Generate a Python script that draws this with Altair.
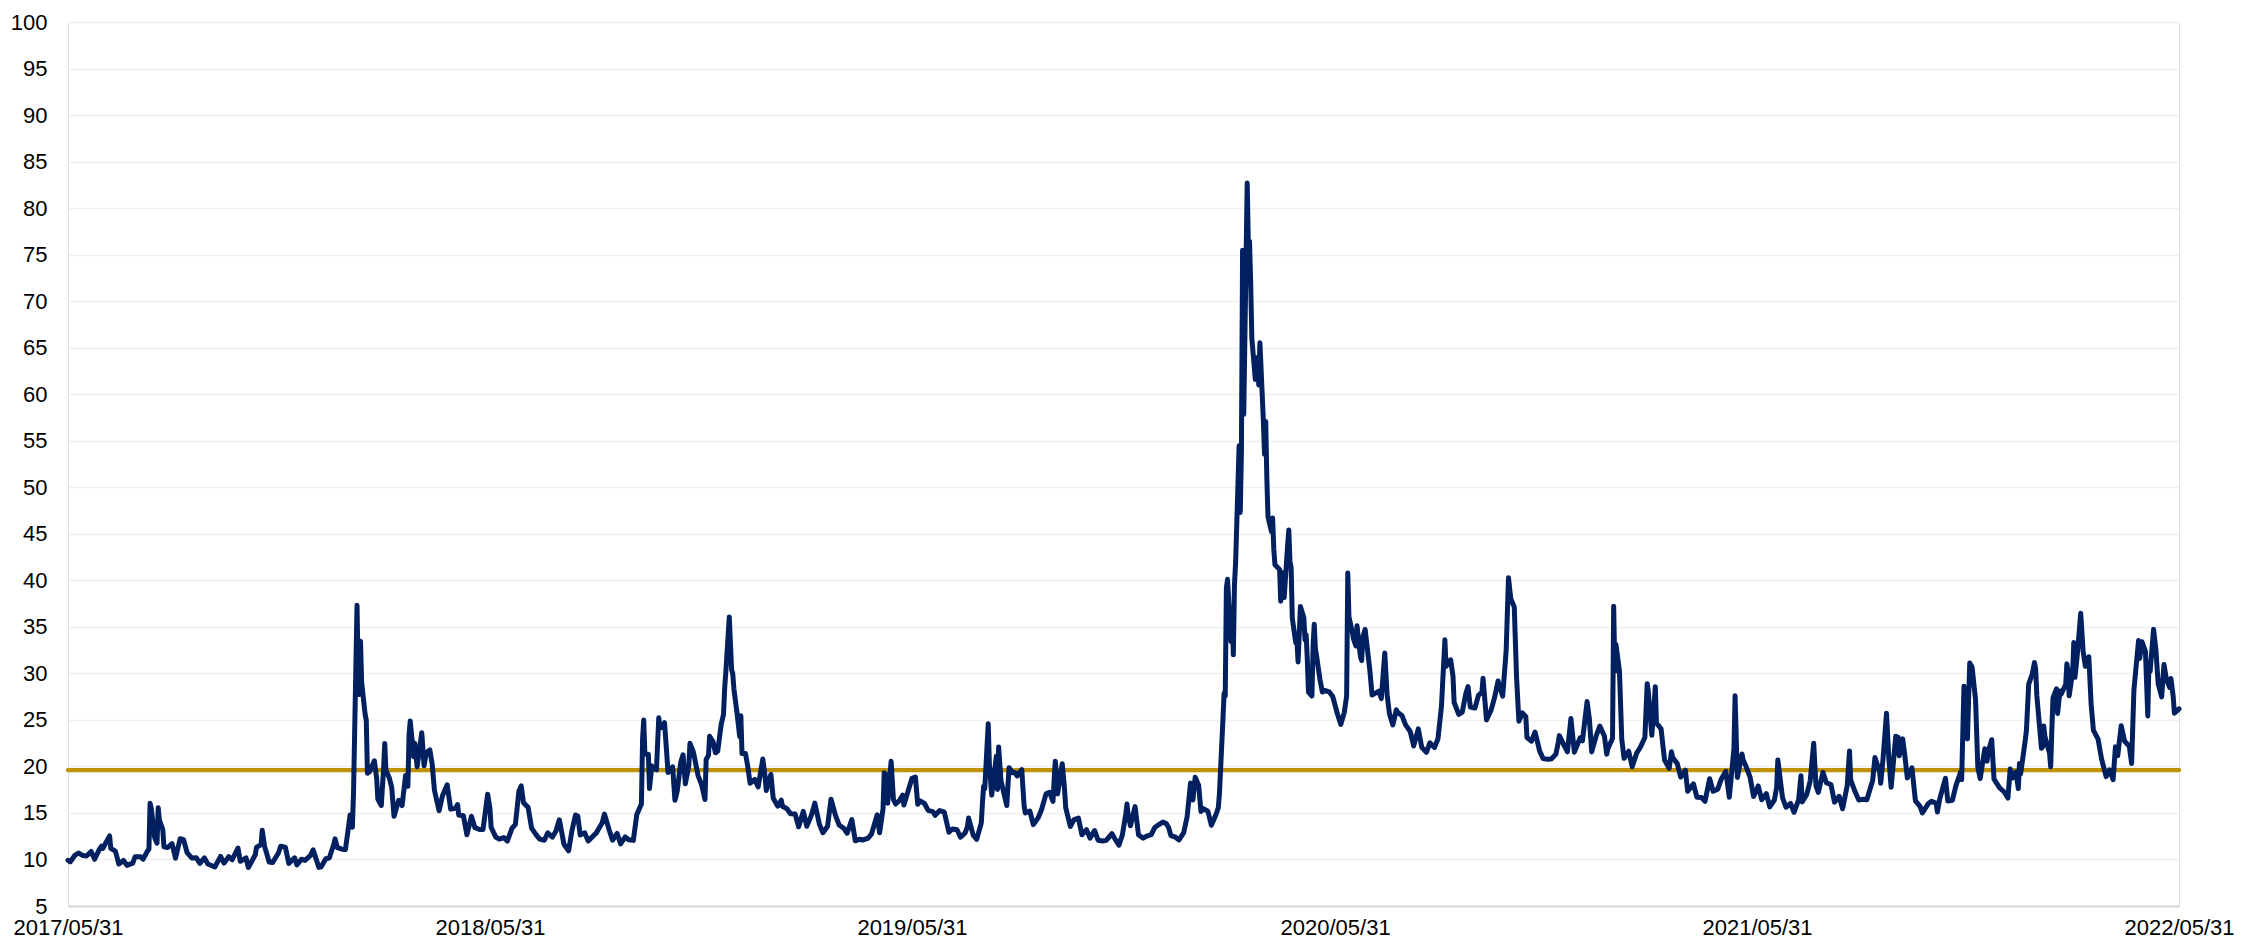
import altair as alt
import pandas as pd

vix_2017 = [("05-31", 9.9), ("06-02", 9.75), ("06-06", 10.45), ("06-09", 10.7), ("06-13", 10.42), ("06-16", 10.38),
            ("06-20", 10.86), ("06-23", 10.02), ("06-27", 11.06), ("06-29", 11.44), ("06-30", 11.18), ("07-06", 12.54),
            ("07-07", 11.19), ("07-11", 10.89), ("07-14", 9.51), ("07-18", 9.89), ("07-21", 9.36), ("07-26", 9.6),
            ("07-28", 10.29), ("08-02", 10.28), ("08-04", 10.03), ("08-08", 10.96), ("08-09", 11.11), ("08-10", 16.04),
            ("08-11", 15.51), ("08-14", 12.33), ("08-16", 11.74), ("08-17", 15.55), ("08-18", 14.26), ("08-21", 13.19),
            ("08-22", 11.35), ("08-25", 11.28), ("08-29", 11.7), ("09-01", 10.13), ("09-05", 12.23), ("09-08", 12.12),
            ("09-11", 10.73), ("09-15", 10.17), ("09-19", 10.18), ("09-22", 9.59), ("09-26", 10.17), ("09-29", 9.51),
            ("10-05", 9.19), ("10-10", 10.33), ("10-13", 9.61), ("10-17", 10.31), ("10-20", 9.97), ("10-25", 11.23),
            ("10-27", 9.8), ("11-01", 10.18), ("11-03", 9.14), ("11-09", 10.5), ("11-10", 11.29), ("11-14", 11.59),
            ("11-15", 13.13), ("11-17", 11.43), ("11-21", 9.73), ("11-24", 9.67), ("11-29", 10.7), ("12-01", 11.43),
            ("12-05", 11.33), ("12-08", 9.58), ("12-13", 10.18), ("12-15", 9.42), ("12-19", 10.03), ("12-22", 9.9),
            ("12-27", 10.47), ("12-29", 11.04)]
vix_2018 = [("01-03", 9.15), ("01-05", 9.22), ("01-09", 10.08), ("01-12", 10.16), ("01-16", 11.66), ("01-17", 12.22),
            ("01-19", 11.27), ("01-23", 11.1), ("01-26", 11.08), ("01-29", 13.84), ("01-30", 14.79), ("02-01", 13.47),
            ("02-02", 17.31), ("02-05", 37.32), ("02-06", 29.98), ("02-07", 27.73), ("02-08", 33.46), ("02-09", 29.06),
            ("02-12", 25.61), ("02-13", 24.97), ("02-14", 19.26), ("02-16", 19.46), ("02-20", 20.6), ("02-22", 18.72),
            ("02-23", 16.49), ("02-26", 15.8), ("02-28", 19.85), ("03-01", 22.47), ("03-02", 19.59), ("03-05", 18.73),
            ("03-07", 17.76), ("03-09", 14.64), ("03-13", 16.35), ("03-16", 15.8), ("03-19", 19.02), ("03-21", 17.86),
            ("03-22", 23.34), ("03-23", 24.87), ("03-26", 21.03), ("03-27", 22.5), ("03-29", 19.97), ("04-02", 23.62),
            ("04-04", 20.06), ("04-06", 21.49), ("04-09", 21.77), ("04-11", 20.24), ("04-13", 17.41), ("04-17", 15.25),
            ("04-20", 16.88), ("04-24", 18.02), ("04-27", 15.41), ("05-01", 15.49), ("05-03", 15.9), ("05-04", 14.77),
            ("05-08", 14.71), ("05-11", 12.65), ("05-15", 14.63), ("05-18", 13.42), ("05-22", 13.22), ("05-25", 13.22),
            ("05-29", 17.02), ("05-31", 15.43), ("06-01", 13.46), ("06-05", 12.4), ("06-08", 12.18), ("06-12", 12.35),
            ("06-15", 11.98), ("06-19", 13.35), ("06-22", 13.77), ("06-25", 17.33), ("06-27", 17.91), ("06-29", 16.09),
            ("07-03", 15.6), ("07-06", 13.37), ("07-10", 12.64), ("07-13", 12.18), ("07-17", 12.06), ("07-20", 12.86),
            ("07-24", 12.41), ("07-27", 13.03), ("07-30", 14.26), ("08-03", 11.64), ("08-07", 10.93), ("08-10", 13.16),
            ("08-13", 14.78), ("08-15", 14.64), ("08-17", 12.64), ("08-21", 12.86), ("08-24", 11.99), ("08-28", 12.5),
            ("08-31", 12.86), ("09-05", 13.91), ("09-07", 14.88), ("09-11", 13.22), ("09-14", 12.07), ("09-18", 12.79),
            ("09-21", 11.68), ("09-25", 12.42), ("09-28", 12.12), ("10-02", 12.05), ("10-05", 14.82), ("10-09", 15.95),
            ("10-10", 22.96), ("10-11", 24.98), ("10-12", 21.31), ("10-15", 21.3), ("10-16", 17.62), ("10-18", 20.06),
            ("10-19", 19.89), ("10-22", 19.64), ("10-24", 25.23), ("10-25", 24.22), ("10-26", 24.16), ("10-29", 24.7),
            ("10-31", 21.23), ("11-01", 19.34), ("11-02", 19.51), ("11-05", 19.96), ("11-07", 16.36), ("11-09", 17.36),
            ("11-12", 20.45), ("11-14", 21.25), ("11-16", 18.14), ("11-19", 20.1), ("11-20", 22.48), ("11-23", 21.52),
            ("11-27", 19.02), ("11-30", 18.07), ("12-03", 16.44), ("12-04", 20.74), ("12-06", 21.19), ("12-07", 23.23),
            ("12-10", 22.64), ("12-12", 21.46), ("12-14", 21.63), ("12-17", 24.52), ("12-19", 25.58), ("12-20", 28.38),
            ("12-21", 30.11), ("12-24", 36.07), ("12-26", 30.41), ("12-27", 29.96), ("12-28", 28.34), ("12-31", 25.42)]
vix_2019 = [("01-02", 23.22), ("01-03", 25.45), ("01-04", 21.38), ("01-07", 21.4), ("01-09", 19.98), ("01-11", 18.19),
            ("01-15", 18.6), ("01-18", 17.8), ("01-22", 20.8), ("01-24", 18.89), ("01-25", 17.42), ("01-29", 19.13),
            ("01-31", 16.57), ("02-04", 15.73), ("02-07", 16.37), ("02-08", 15.72), ("02-12", 15.43), ("02-15", 14.91),
            ("02-19", 14.88), ("02-22", 13.51), ("02-26", 15.17), ("03-01", 13.57), ("03-05", 14.74), ("03-08", 16.05),
            ("03-12", 13.77), ("03-15", 12.88), ("03-19", 13.56), ("03-22", 16.48), ("03-26", 14.68), ("03-29", 13.71),
            ("04-02", 13.36), ("04-05", 12.82), ("04-09", 14.28), ("04-12", 12.01), ("04-16", 12.18), ("04-18", 12.09),
            ("04-23", 12.28), ("04-26", 12.73), ("05-01", 14.8), ("05-03", 12.87), ("05-06", 15.44), ("05-07", 19.32),
            ("05-09", 19.1), ("05-10", 16.04), ("05-13", 20.55), ("05-15", 16.44), ("05-17", 15.96), ("05-20", 16.31),
            ("05-23", 16.92), ("05-24", 15.85), ("05-28", 17.5), ("05-31", 18.71), ("06-03", 18.86), ("06-05", 15.93),
            ("06-07", 16.3), ("06-11", 15.99), ("06-14", 15.28), ("06-18", 15.15), ("06-20", 14.75), ("06-24", 15.26),
            ("06-28", 15.08), ("07-02", 12.93), ("07-05", 13.28), ("07-09", 13.19), ("07-12", 12.39), ("07-16", 12.86),
            ("07-18", 13.53), ("07-19", 14.45), ("07-23", 12.61), ("07-26", 12.16), ("07-30", 13.94), ("07-31", 16.12),
            ("08-01", 17.87), ("08-02", 17.61), ("08-05", 24.59), ("08-06", 20.17), ("08-08", 16.91), ("08-09", 17.97),
            ("08-12", 21.09), ("08-13", 17.52), ("08-14", 22.1), ("08-16", 18.47), ("08-21", 15.8), ("08-23", 19.87),
            ("08-26", 19.32), ("08-28", 19.35), ("08-30", 18.98), ("09-03", 19.66), ("09-05", 15.82), ("09-06", 15.0),
            ("09-10", 15.2), ("09-13", 13.74), ("09-17", 14.44), ("09-20", 15.32), ("09-24", 17.05), ("09-27", 17.22),
            ("09-30", 16.24), ("10-01", 18.56), ("10-02", 20.56), ("10-03", 19.12), ("10-04", 17.04), ("10-08", 20.28),
            ("10-10", 17.57), ("10-11", 15.58), ("10-15", 13.54), ("10-18", 14.25), ("10-22", 14.46), ("10-25", 12.65),
            ("10-29", 13.2), ("11-01", 12.3), ("11-05", 13.1), ("11-08", 12.07), ("11-12", 11.99), ("11-15", 12.05),
            ("11-20", 12.78), ("11-22", 12.34), ("11-26", 11.54), ("11-29", 12.62), ("12-02", 14.91), ("12-03", 15.96),
            ("12-04", 14.8), ("12-06", 13.62), ("12-10", 15.68), ("12-13", 12.63), ("12-17", 12.29), ("12-20", 12.51),
            ("12-24", 12.67), ("12-27", 13.43), ("12-31", 13.78)]
vix_2020 = [("01-03", 14.02), ("01-06", 13.85), ("01-08", 13.45), ("01-10", 12.56), ("01-14", 12.39), ("01-17", 12.1),
            ("01-21", 12.85), ("01-24", 14.56), ("01-27", 18.23), ("01-29", 16.39), ("01-31", 18.84), ("02-03", 17.97),
            ("02-05", 15.15), ("02-07", 15.47), ("02-11", 15.18), ("02-14", 13.68), ("02-18", 14.83), ("02-20", 15.56),
            ("02-21", 17.08), ("02-24", 25.03), ("02-25", 27.85), ("02-26", 27.56), ("02-27", 39.16), ("02-28", 40.11),
            ("03-02", 33.42), ("03-03", 36.82), ("03-04", 31.99), ("03-05", 39.62), ("03-06", 41.94), ("03-09", 54.46),
            ("03-10", 47.3), ("03-11", 53.9), ("03-12", 75.47), ("03-13", 57.83), ("03-16", 82.69), ("03-17", 75.91),
            ("03-18", 76.45), ("03-19", 72.0), ("03-20", 66.04), ("03-23", 61.59), ("03-24", 61.67), ("03-25", 63.95),
            ("03-26", 61.0), ("03-27", 65.54), ("03-30", 57.08), ("03-31", 53.54), ("04-01", 57.06), ("04-02", 50.91),
            ("04-03", 46.8), ("04-06", 45.24), ("04-07", 46.7), ("04-08", 43.35), ("04-09", 41.67), ("04-13", 41.17),
            ("04-14", 37.76), ("04-15", 40.84), ("04-16", 40.11), ("04-17", 38.15), ("04-20", 43.83), ("04-21", 45.41),
            ("04-22", 41.98), ("04-23", 41.38), ("04-24", 35.93), ("04-27", 33.29), ("04-28", 33.57), ("04-29", 31.23),
            ("04-30", 34.15), ("05-01", 37.19), ("05-04", 35.97), ("05-05", 33.61), ("05-06", 34.12), ("05-07", 31.44),
            ("05-08", 27.98), ("05-11", 27.57), ("05-12", 33.04), ("05-13", 35.28), ("05-14", 32.61), ("05-15", 31.89),
            ("05-18", 29.3), ("05-20", 27.99), ("05-22", 28.16), ("05-26", 28.01), ("05-29", 27.51), ("06-02", 25.66),
            ("06-05", 24.52), ("06-08", 25.81), ("06-10", 27.57), ("06-11", 40.79), ("06-12", 36.09), ("06-15", 34.4),
            ("06-16", 33.67), ("06-18", 32.94), ("06-19", 35.12), ("06-22", 31.77), ("06-23", 31.37), ("06-24", 33.84),
            ("06-26", 34.73), ("06-30", 30.43), ("07-02", 27.68), ("07-06", 27.94), ("07-08", 28.08), ("07-10", 27.29),
            ("07-13", 32.19), ("07-15", 27.76), ("07-17", 25.68), ("07-20", 24.46), ("07-23", 26.08), ("07-24", 25.84),
            ("07-28", 25.44), ("07-31", 24.46), ("08-04", 23.76), ("08-07", 22.21), ("08-11", 24.03), ("08-14", 22.05),
            ("08-18", 21.51), ("08-21", 22.54), ("08-25", 22.03), ("08-28", 22.96), ("08-31", 26.41), ("09-03", 33.6),
            ("09-04", 30.75), ("09-08", 31.46), ("09-10", 29.71), ("09-11", 26.87), ("09-15", 25.59), ("09-18", 25.83),
            ("09-21", 27.78), ("09-23", 28.58), ("09-25", 26.38), ("09-29", 26.27), ("10-02", 27.63), ("10-05", 27.96),
            ("10-06", 29.48), ("10-09", 25.0), ("10-13", 26.07), ("10-16", 27.41), ("10-19", 29.18), ("10-23", 27.55),
            ("10-26", 32.46), ("10-28", 40.28), ("10-30", 38.02), ("11-02", 37.13), ("11-04", 29.57), ("11-06", 24.86),
            ("11-09", 25.75), ("11-12", 25.35), ("11-13", 23.1), ("11-17", 22.71), ("11-20", 23.7), ("11-24", 21.64),
            ("11-27", 20.84), ("12-01", 20.77), ("12-04", 20.79), ("12-08", 21.3), ("12-10", 22.52), ("12-11", 23.31),
            ("12-15", 22.29), ("12-18", 21.57), ("12-21", 25.16), ("12-24", 21.53), ("12-29", 23.08), ("12-31", 22.75)]
vix_2021 = [("01-04", 26.97), ("01-06", 25.07), ("01-08", 21.56), ("01-12", 23.33), ("01-15", 24.34), ("01-19", 23.24),
            ("01-21", 21.32), ("01-22", 21.91), ("01-26", 23.02), ("01-27", 37.21), ("01-28", 30.21), ("01-29", 33.09),
            ("02-01", 30.24), ("02-03", 22.91), ("02-05", 20.87), ("02-09", 21.63), ("02-12", 19.97), ("02-16", 21.46),
            ("02-19", 22.05), ("02-23", 23.11), ("02-25", 28.89), ("02-26", 27.95), ("03-01", 23.35), ("03-03", 26.67),
            ("03-04", 28.57), ("03-05", 24.66), ("03-09", 24.03), ("03-12", 20.69), ("03-16", 19.79), ("03-18", 21.58),
            ("03-19", 20.95), ("03-23", 20.3), ("03-26", 18.86), ("03-30", 19.61), ("04-01", 17.33), ("04-06", 18.12),
            ("04-09", 16.69), ("04-13", 16.65), ("04-16", 16.25), ("04-20", 18.68), ("04-23", 17.33), ("04-27", 17.56),
            ("04-30", 18.61), ("05-04", 19.48), ("05-07", 16.69), ("05-11", 21.84), ("05-12", 27.59), ("05-13", 23.13),
            ("05-14", 18.81), ("05-18", 21.34), ("05-19", 20.67), ("05-21", 20.15), ("05-25", 18.84), ("05-28", 16.76),
            ("06-01", 17.9), ("06-04", 16.42), ("06-08", 17.07), ("06-11", 15.65), ("06-15", 16.39), ("06-17", 17.75),
            ("06-18", 20.7), ("06-22", 16.66), ("06-25", 15.62), ("06-29", 16.02), ("07-02", 15.07), ("07-06", 16.44),
            ("07-08", 19.0), ("07-09", 16.18), ("07-13", 16.99), ("07-16", 18.45), ("07-19", 22.5), ("07-21", 17.91),
            ("07-23", 17.2), ("07-27", 19.36), ("07-30", 18.24), ("08-03", 18.04), ("08-06", 16.15), ("08-10", 16.79),
            ("08-13", 15.45), ("08-17", 17.91), ("08-19", 21.67), ("08-20", 18.56), ("08-24", 17.22), ("08-27", 16.39),
            ("08-31", 16.48), ("09-03", 16.41), ("09-08", 18.49), ("09-10", 20.95), ("09-14", 19.46), ("09-15", 18.18),
            ("09-17", 20.81), ("09-20", 25.71), ("09-22", 20.87), ("09-24", 17.75), ("09-28", 23.25), ("09-30", 23.14),
            ("10-01", 21.15), ("10-04", 22.96), ("10-06", 21.0), ("10-08", 18.77), ("10-12", 19.85), ("10-15", 16.3),
            ("10-19", 15.7), ("10-21", 15.01), ("10-26", 15.98), ("10-29", 16.26), ("11-02", 16.03), ("11-03", 15.1),
            ("11-05", 16.48), ("11-10", 18.73), ("11-12", 16.29), ("11-16", 16.37), ("11-19", 17.91), ("11-23", 19.38),
            ("11-24", 18.58), ("11-26", 28.62), ("11-29", 22.96), ("11-30", 27.19), ("12-01", 31.12), ("12-03", 30.67),
            ("12-06", 27.18), ("12-08", 19.9), ("12-10", 18.69), ("12-14", 21.89), ("12-16", 20.57), ("12-17", 21.57),
            ("12-20", 22.87), ("12-22", 18.63), ("12-27", 17.68), ("12-31", 17.22)]
vix_2022 = [("01-03", 16.6), ("01-05", 19.73), ("01-07", 18.76), ("01-10", 19.4), ("01-12", 17.62), ("01-13", 20.31),
            ("01-14", 19.19), ("01-18", 22.79), ("01-19", 23.85), ("01-21", 28.85), ("01-24", 29.9), ("01-26", 31.16),
            ("01-27", 30.49), ("01-28", 27.66), ("02-01", 21.96), ("02-02", 22.09), ("02-03", 24.35), ("02-04", 23.22),
            ("02-08", 21.44), ("02-09", 19.96), ("02-10", 23.91), ("02-11", 27.36), ("02-14", 28.33), ("02-15", 25.7),
            ("02-17", 28.11), ("02-18", 27.75), ("02-22", 28.81), ("02-23", 31.02), ("02-24", 30.32), ("02-25", 27.59),
            ("02-28", 30.15), ("03-01", 33.32), ("03-02", 29.57), ("03-04", 31.98), ("03-07", 36.45), ("03-09", 32.45),
            ("03-11", 30.75), ("03-14", 31.77), ("03-16", 26.67), ("03-18", 23.87), ("03-22", 22.94), ("03-25", 20.81),
            ("03-29", 18.9), ("04-01", 19.63), ("04-04", 18.57), ("04-06", 22.1), ("04-08", 21.16), ("04-11", 24.37),
            ("04-14", 22.7), ("04-18", 22.17), ("04-20", 20.32), ("04-22", 28.21), ("04-26", 33.52), ("04-27", 31.6),
            ("04-29", 33.4), ("05-02", 32.34), ("05-04", 25.42), ("05-05", 31.2), ("05-06", 30.19), ("05-09", 34.75),
            ("05-11", 32.56), ("05-13", 28.87), ("05-16", 27.47), ("05-18", 30.96), ("05-20", 29.43), ("05-23", 28.48),
            ("05-24", 29.45), ("05-26", 27.5), ("05-27", 25.72), ("05-31", 26.19)]

average_level = [19.6]
y_ticks = list(range(5, 101, 5))
x_tick_years = [2017, 2018, 2019, 2020, 2021, 2022]

rows = []
for year, series in [(2017, vix_2017), (2018, vix_2018), (2019, vix_2019),
                     (2020, vix_2020), (2021, vix_2021), (2022, vix_2022)]:
    for md, v in series:
        rows.append({"date": f"{year}-{md}", "vix": v})
df = pd.DataFrame(rows)
df_avg = pd.DataFrame({"avg": average_level})

FONT = "Liberation Sans"
x_values = [alt.DateTime(year=y, month=5, date=31, utc=True) for y in x_tick_years]

x_enc = alt.X(
    "date:T",
    scale=alt.Scale(type="utc",
                    domain=[alt.DateTime(year=2017, month=5, date=31, utc=True),
                            alt.DateTime(year=2022, month=5, date=31, utc=True)],
                    nice=False),
    axis=alt.Axis(values=x_values, labelExpr="utcFormat(datum.value, '%Y/%m/%d')", title=None,
                  grid=False, ticks=False, domain=True, domainColor="#D9D9D9", domainWidth=2,
                  labelFont=FONT, labelFontSize=22, labelColor="#000000", labelPadding=11,
                  labelBaseline="top", labelFlush=False, labelOverlap=False),
)
y_enc = alt.Y(
    "vix:Q",
    scale=alt.Scale(domain=[5, 100], nice=False, zero=False),
    axis=alt.Axis(values=y_ticks, title=None, grid=True, gridColor="#F0F0F0", gridWidth=1.6,
                  ticks=False, domain=False, labelFont=FONT, labelFontSize=22,
                  labelColor="#000000", labelPadding=21),
)

line = alt.Chart(df).mark_line(color="#002060", strokeWidth=5, strokeJoin="round",
                               strokeCap="round").encode(x=x_enc, y=y_enc)

avg_rule = alt.Chart(df_avg).mark_rule(color="#C09100", strokeWidth=4.2, strokeCap="round").encode(
    y=alt.Y("avg:Q", scale=alt.Scale(domain=[5, 100], nice=False, zero=False))
)

chart = alt.layer(avg_rule, line).properties(
    width=2111, height=884,
    autosize=alt.AutoSizeParams(type="none"),
    padding={"left": 60, "top": 14, "right": 60, "bottom": 33},
).configure_view(stroke=None).configure(background="white")

chart.save("out.html", embed_options={"renderer": "svg", "actions": False})
